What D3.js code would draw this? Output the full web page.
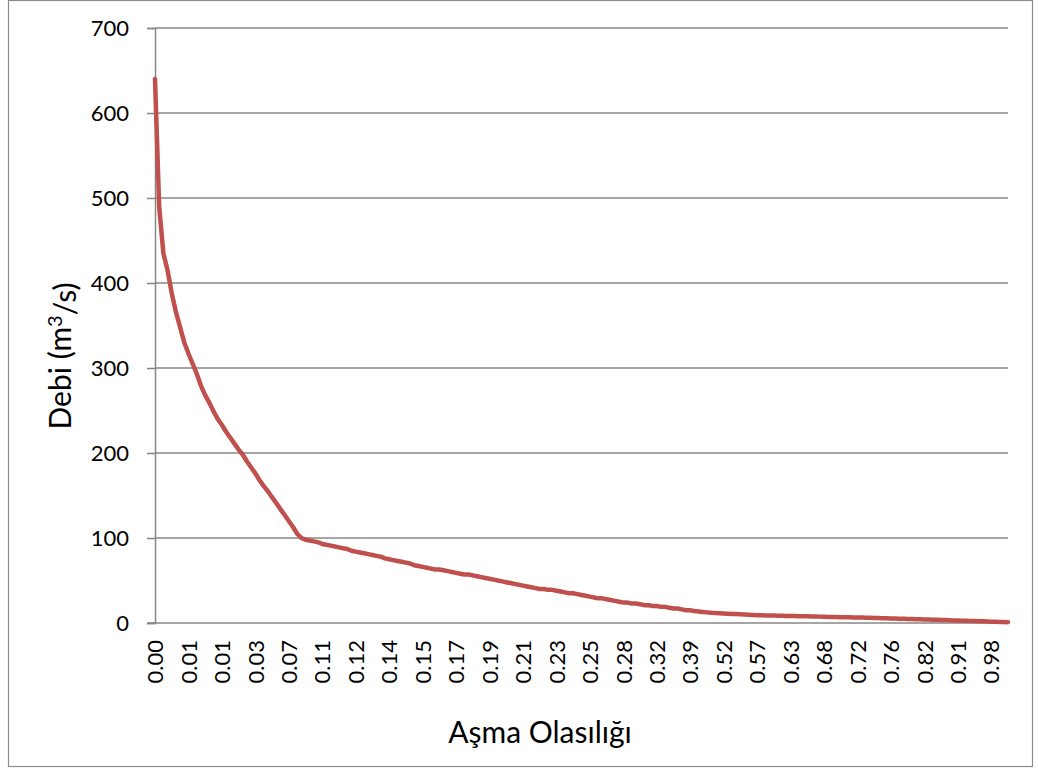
<!DOCTYPE html>
<html>
<head>
<meta charset="utf-8">
<script src="https://cdn.jsdelivr.net/npm/d3@7"></script>
<style>
  html, body { margin: 0; padding: 0; background: #fff; }
  svg { display: block; }
  text { font-family: Lato, "Open Sans", sans-serif; fill: #000; }
</style>
</head>
<body>
<svg id="chart" width="1038" height="769"></svg>
<script>
// Flow-duration curve: discharge against exceedance probability.
// Exceedance-probability labels shown on the category axis (every 8th category).
const tickLabels = [
  "0.00", "0.01", "0.01", "0.03", "0.07", "0.11", "0.12", "0.14", "0.15",
  "0.17", "0.19", "0.21", "0.23", "0.25", "0.28", "0.32", "0.39", "0.52",
  "0.57", "0.63", "0.68", "0.72", "0.76", "0.82", "0.91", "0.98"
];
const labelEvery = 8;

// Discharge (m3/s), one value per category, sorted from highest to lowest.
const flows = [
  640, 490, 435, 415, 388, 366, 348, 330, 317, 305,
  293, 279, 268, 259, 249, 240, 233, 225, 218, 211,
  204, 198, 190, 183, 176, 168, 161, 155, 148, 141,
  134, 127, 120, 113, 105, 100, 98, 97, 96, 95,
  93, 92, 91, 90, 89, 88, 87, 85, 84, 83,
  82, 81, 80, 79, 78, 76, 75, 74, 73, 72,
  71, 70, 68, 67, 66, 65, 64, 63, 63, 62,
  61, 60, 59, 58, 57, 57, 56, 55, 54, 53,
  52, 51, 50, 49, 48, 47, 46, 45, 44, 43,
  42, 41, 40, 40, 39, 39, 38, 37, 36, 35,
  35, 34, 33, 32, 31, 30, 29, 29, 28, 27,
  26, 25, 24, 24, 23, 23, 22, 21, 21, 20,
  20, 19, 19, 18, 17, 17, 16, 15, 15, 14,
  13.5, 13, 12.5, 12, 11.7, 11.5, 11.2, 11.0, 10.7, 10.5,
  10.2, 10.0, 9.7, 9.5, 9.2, 9.0,
  8.9, 8.8, 8.7, 8.5, 8.4, 8.3, 8.2, 8.1, 8.0, 7.9,
  7.8, 7.7, 7.6, 7.5, 7.3, 7.2, 7.1, 7.0, 6.9, 6.8,
  6.7, 6.6, 6.5, 6.4, 6.3, 6.1, 6.0,
  5.8, 5.7, 5.5, 5.4, 5.2, 5.1, 4.9, 4.8, 4.6, 4.4,
  4.3, 4.1, 4.0, 3.8, 3.7, 3.5, 3.4, 3.2, 3.0, 2.9,
  2.7, 2.6, 2.4, 2.3, 2.1, 2.0, 1.8, 1.6, 1.5, 1.3,
  1.2, 1.0
];

const yTicks = [0, 100, 200, 300, 400, 500, 600, 700];

const svg = d3.select("#chart");
const plot = { left: 155, right: 1008, top: 28, bottom: 623 };

// Outer chart frame
svg.append("rect")
  .attr("x", 8.5).attr("y", 0.5)
  .attr("width", 1024).attr("height", 766)
  .attr("fill", "#fff")
  .attr("stroke", "#8c8c8c")
  .attr("stroke-width", 1.2);

const x = d3.scaleLinear()
  .domain([0, flows.length - 1])
  .range([plot.left, plot.right]);

const y = d3.scaleLinear()
  .domain([0, 700])
  .range([plot.bottom, plot.top]);

// Horizontal gridlines
svg.append("g")
  .selectAll("line")
  .data(yTicks.filter(d => d > 0))
  .join("line")
  .attr("x1", plot.left).attr("x2", plot.right)
  .attr("y1", d => y(d)).attr("y2", d => y(d))
  .attr("stroke", "#878787")
  .attr("stroke-width", 1.5);

// Y axis
const yAxis = svg.append("g")
  .attr("transform", `translate(${plot.left},0)`)
  .call(d3.axisLeft(y).tickValues(yTicks).tickSize(8).tickPadding(18).tickFormat(d3.format("d")));
yAxis.select(".domain").attr("stroke", "#878787").attr("stroke-width", 1.5);
yAxis.selectAll(".tick line").attr("stroke", "#878787").attr("stroke-width", 1.5);
yAxis.selectAll(".tick text")
  .style("font-family", "Lato, 'Open Sans', sans-serif")
  .style("font-size", "22px")
  .attr("fill", "#000");

// X axis (category positions, labelled every few categories)
const xTickIdx = tickLabels.map((_, i) => i * labelEvery);
const xAxis = svg.append("g")
  .attr("transform", `translate(0,${plot.bottom})`)
  .call(d3.axisBottom(x).tickValues(xTickIdx).tickSize(0)
    .tickFormat((d, i) => tickLabels[i]));
xAxis.select(".domain")
  .attr("d", `M${plot.left - 8},0H${plot.right}`)
  .attr("stroke", "#878787").attr("stroke-width", 1.5);
xAxis.selectAll(".tick text")
  .style("font-family", "Lato, 'Open Sans', sans-serif")
  .style("font-size", "22px")
  .attr("fill", "#000")
  .attr("text-anchor", "end")
  .attr("dy", "0.35em")
  .attr("transform", "translate(0,17) rotate(-90)")
  .attr("x", 0).attr("y", 0);

// Flow-duration line
const line = d3.line()
  .x((d, i) => x(i))
  .y(d => y(d));

svg.append("path")
  .datum(flows)
  .attr("d", line)
  .attr("fill", "none")
  .attr("stroke", "#C0504D")
  .attr("stroke-width", 4.5)
  .attr("stroke-linejoin", "round")
  .attr("stroke-linecap", "round");

// Axis titles
svg.append("text")
  .attr("x", 540).attr("y", 743)
  .attr("text-anchor", "middle")
  .style("font-size", "30px")
  .text("Aşma Olasılığı");

const yTitle = svg.append("text")
  .attr("transform", "translate(71,356) rotate(-90)")
  .attr("text-anchor", "middle")
  .style("font-size", "30px");
yTitle.append("tspan").text("Debi (m");
yTitle.append("tspan").attr("dy", "-0.45em").style("font-size", "20px").text("3");
yTitle.append("tspan").attr("dy", "0.45em").text("/s)");
</script>
</body>
</html>
